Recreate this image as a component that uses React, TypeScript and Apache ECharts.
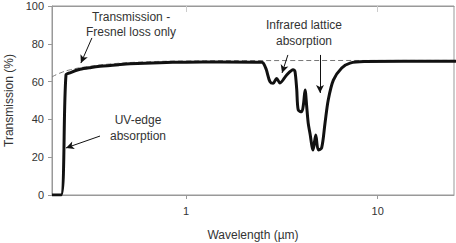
import React, { useEffect, useRef } from "react";
import * as echarts from "echarts";

// Measured transmission (solid)
const wavelength = [
  0.2, 0.223, 0.2366, 0.25, 0.28, 0.32, 0.356, 0.45, 0.51, 0.73, 1.0, 1.5, 2.43, 2.52, 2.62, 2.74, 2.85,
  2.97, 3.09, 3.35, 3.62, 3.7, 3.78, 3.85, 4.01, 4.1, 4.18, 4.26, 4.34, 4.43, 4.6, 4.75, 4.9, 5.1, 5.31,
  5.52, 5.87, 6.49, 7.17, 8.5, 25.6,
];
const transmission = [
  0, 0, 63.5, 64.8, 66.5, 67.5, 68.1, 69, 69.4, 70, 70.3, 70.4, 70.3, 70, 66.5, 60, 59.1,
  61.7, 59.3, 63.5, 66.3, 65.5, 56, 45, 44, 48, 55.5, 47, 38, 32.8, 23.8, 31.7, 23.8, 24.9, 38,
  50.3, 60.8, 67.2, 69.8, 70.6, 70.8,
];

// Transmission - Fresnel loss only (dashed)
const fresnelWavelength = [0.2, 0.22, 0.25, 0.3, 0.4, 0.6, 1.0, 2.0, 25.6];
const fresnelTransmission = [62.5, 64.5, 66.3, 67.8, 69.3, 70.4, 70.9, 71.1, 71.2];

const xTicks = [1, 10];
const yTicks = [0, 20, 40, 60, 80, 100];

// Annotation arrows (data coordinates): from -> to
const arrowFrom: [number, number][] = [
  [0.323, 83.1],
  [0.356, 31.2],
  [3.4, 74.1],
  [5.0, 74.1],
];
const arrowTo: [number, number][] = [
  [0.283, 69.8],
  [0.2366, 24.9],
  [3.17, 64.6],
  [5.0, 54],
];

const annotationTexts = ["Transmission -\nFresnel loss only", "UV-edge\nabsorption", "Infrared lattice\nabsorption"];

const FONT = "Liberation Sans, Arial, sans-serif";

export default function App() {
  const ref = useRef<HTMLDivElement>(null);
  useEffect(() => {
    if (!ref.current) return;
    const chart = echarts.init(ref.current, undefined, { renderer: "svg" });
    const solid = wavelength.map((w, i) => [w, transmission[i]]);
    const dashed = fresnelWavelength.map((w, i) => [w, fresnelTransmission[i]]);
    const arrows = arrowFrom.map((f, i) => [{ coord: f }, { coord: arrowTo[i] }]);
    const textStyle = { fontSize: 12, fontFamily: FONT, fill: "#333", align: "center", verticalAlign: "top", lineHeight: 16 };
    chart.setOption({
      animation: false,
      grid: {
        left: 52, right: 2, top: 6, bottom: 48, show: true, borderColor: "#999", borderWidth: 1,
        containLabel: false, outerBoundsMode: "none",
      },
      xAxis: [
        {
          type: "log",
          logBase: 10,
          min: 0.2,
          max: 25,
          name: "Wavelength (µm)",
          nameLocation: "middle",
          nameGap: 34,
          nameMoveOverlap: false,
          nameTextStyle: { fontSize: 12, fontFamily: FONT, color: "#333" },
          axisLine: { show: true, lineStyle: { color: "#999" } },
          axisTick: { show: true, length: 4, lineStyle: { color: "#999" }, customValues: xTicks },
          axisLabel: { customValues: xTicks, fontSize: 11, fontFamily: FONT, color: "#333", margin: 10, formatter: (v: number) => String(v) },
          splitLine: { show: false },
          minorTick: { show: false },
        },
        {
          type: "log",
          logBase: 10,
          min: 0.2,
          max: 25,
          position: "top",
          axisLine: { show: true, lineStyle: { color: "#999" } },
          axisTick: { show: true, inside: true, length: 6, lineStyle: { color: "#ccc" }, customValues: xTicks },
          axisLabel: { show: false },
          splitLine: { show: false },
        },
      ],
      yAxis: {
        type: "value",
        min: 0,
        max: 100,
        interval: 20,
        name: "Transmission (%)",
        nameLocation: "middle",
        nameGap: 37,
        nameMoveOverlap: false,
        nameTextStyle: { fontSize: 12, fontFamily: FONT, color: "#333" },
        axisLine: { show: true, lineStyle: { color: "#999" } },
        axisTick: { show: true, length: 4, lineStyle: { color: "#999" } },
        axisLabel: { fontSize: 11, fontFamily: FONT, color: "#333", margin: 8, customValues: yTicks },
        splitLine: { show: false },
      },
      series: [
        {
          type: "line",
          data: dashed,
          showSymbol: false,
          smooth: true,
          lineStyle: { color: "#777", width: 1, type: [5, 3] },
          z: 2,
          markLine: {
            silent: true,
            symbol: ["none", "arrow"],
            symbolSize: [6, 8],
            label: { show: false },
            lineStyle: { color: "#111", width: 1, type: "solid" },
            data: arrows,
          },
        },
        {
          type: "line",
          data: solid,
          showSymbol: false,
          smooth: 0.3,
          lineStyle: { color: "#111", width: 3 },
          z: 3,
        },
      ],
      graphic: [
        { type: "text", x: 131, y: 9, style: { ...textStyle, text: annotationTexts[0], lineHeight: 15 } },
        { type: "text", x: 138, y: 112, style: { ...textStyle, text: annotationTexts[1] } },
        { type: "text", x: 304, y: 17, style: { ...textStyle, text: annotationTexts[2] } },
      ],
    });
    return () => chart.dispose();
  }, []);
  return <div ref={ref} style={{ width: 456, height: 243, position: "absolute", left: 0, top: 0 }} />;
}
